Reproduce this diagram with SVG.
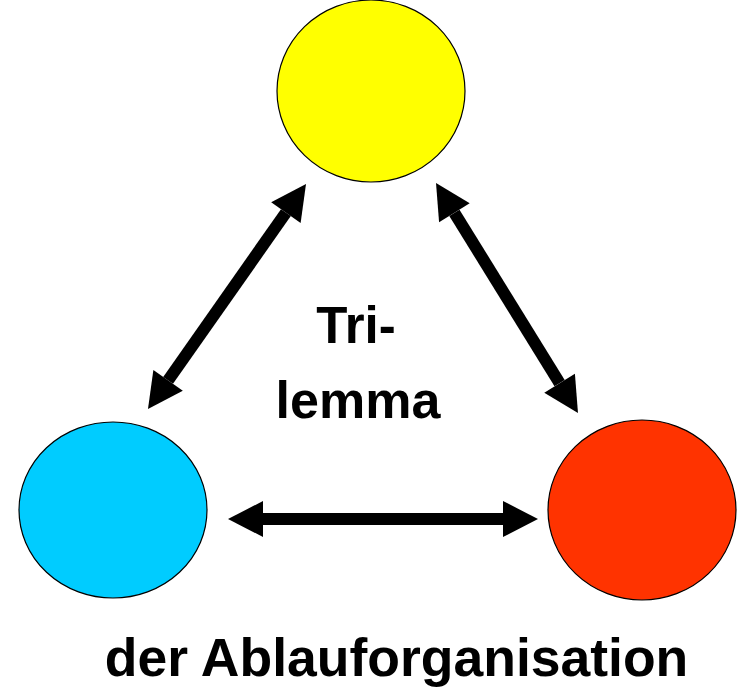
<svg xmlns="http://www.w3.org/2000/svg" width="741" height="687" viewBox="0 0 741 687">
<style>
.node{stroke:#000;stroke-width:1.2}
.conn{stroke:#000;stroke-width:12;fill:none}
.lbl{font-family:"Liberation Sans",Arial,sans-serif;font-weight:bold;fill:#000}
</style>
<defs>
<marker id="ah" markerUnits="userSpaceOnUse" markerWidth="40" markerHeight="40" viewBox="0 -20 36 40" refX="0" refY="0" orient="auto-start-reverse">
<path d="M0,-18 L35,0 L0,18 Z" fill="#000"/>
</marker>
</defs>
<rect width="741" height="687" fill="#fff"/>
<g id="node-yellow"><ellipse class="node" cx="371" cy="91" rx="94" ry="91" fill="#FFFF00"/></g>
<g id="node-blue"><ellipse class="node" cx="113" cy="510" rx="94" ry="88" fill="#00CCFF"/></g>
<g id="node-red"><ellipse class="node" cx="642" cy="510" rx="94" ry="90" fill="#FF3300"/></g>
<g id="connectors">
<line class="conn" x1="285.9" y1="212.6" x2="168.1" y2="380.4" marker-start="url(#ah)" marker-end="url(#ah)"/>
<line class="conn" x1="454.4" y1="212.8" x2="559.6" y2="383.2" marker-start="url(#ah)" marker-end="url(#ah)"/>
<line class="conn" x1="263" y1="519" x2="503" y2="519" marker-start="url(#ah)" marker-end="url(#ah)"/>
</g>
<g id="labels">
<text class="lbl" x="356" y="343" font-size="51" text-anchor="middle">Tri-</text>
<text class="lbl" x="358" y="418" font-size="52" text-anchor="middle">lemma</text>
<text class="lbl" x="396.5" y="676" font-size="53.5" text-anchor="middle">der Ablauforganisation</text>
</g>
</svg>
